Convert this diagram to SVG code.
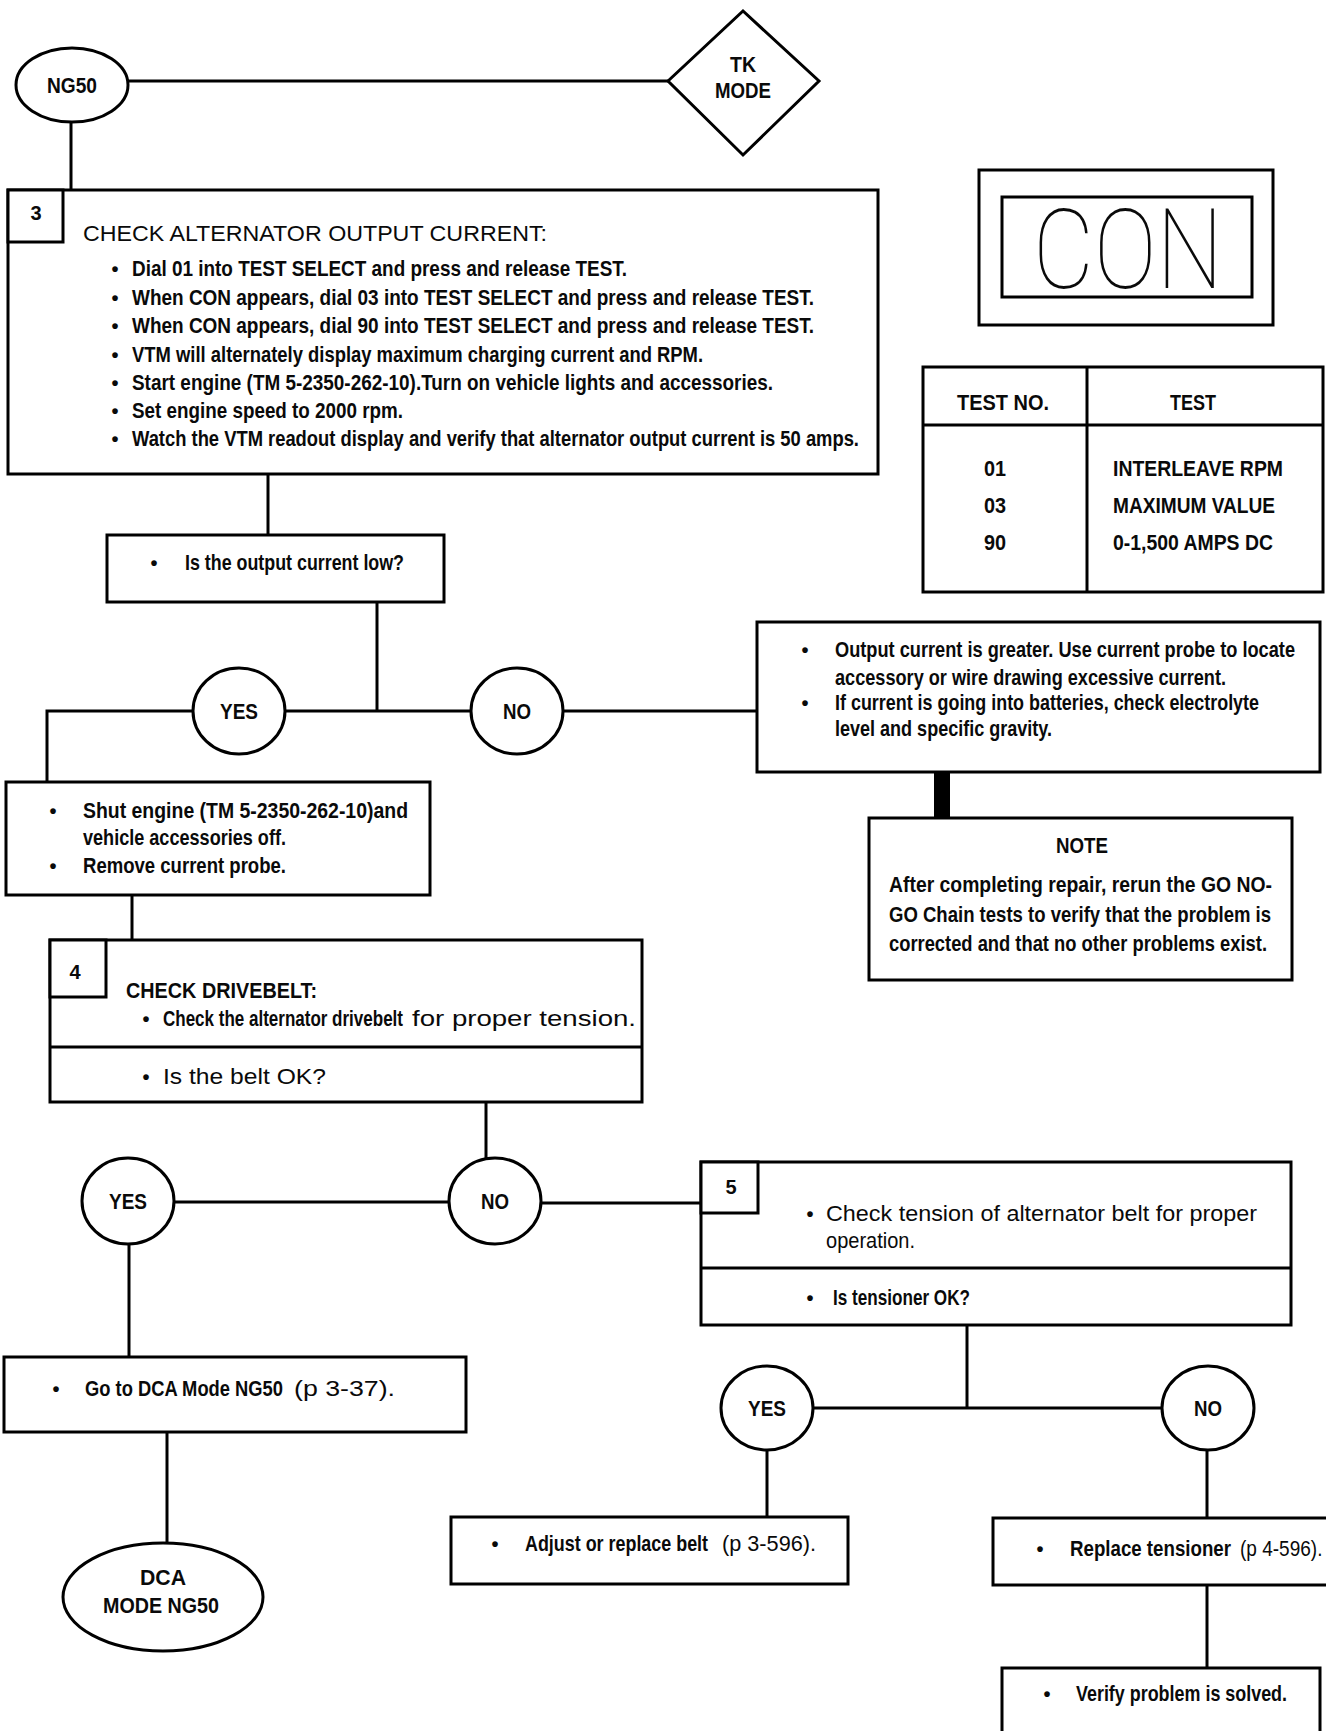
<svg xmlns="http://www.w3.org/2000/svg" width="1326" height="1731" viewBox="0 0 1326 1731">
  <style>
    .bx { fill: #fff; stroke: #000; stroke-width: 3; }
    .ov { fill: #fff; stroke: #000; stroke-width: 3; }
    .ln { fill: none; stroke: #000; stroke-width: 3; }
    text { fill: #0a0a0a; font-family: "Liberation Sans", Arial, sans-serif; font-size: 22px; }
    /* narrow bold lettering: drawn with a horizontal squeeze of 0.72 */
    .b { font-weight: bold; }
    .m { text-anchor: middle; }
    .lbl { font-weight: bold; text-anchor: middle; }
    .num { font-weight: bold; font-size: 20px; text-anchor: middle; }
    .dot { font-size: 20px; text-anchor: middle; font-weight: bold; }
    .seg { font-family: Roboto, Lato, Inter, "Noto Sans", sans-serif; font-weight: 100; font-size: 112px; }
  </style>

  <!-- connectors -->
  <g id="connectors">
    <line class="ln" x1="128" y1="81" x2="668" y2="81"/>
    <line class="ln" x1="71" y1="122" x2="71" y2="190"/>
    <line class="ln" x1="268" y1="474" x2="268" y2="535"/>
    <line class="ln" x1="377" y1="602" x2="377" y2="711"/>
    <line class="ln" x1="285" y1="711" x2="471" y2="711"/>
    <polyline class="ln" points="193,711 47,711 47,782"/>
    <line class="ln" x1="563" y1="711" x2="757" y2="711"/>
    <rect x="934" y="772" width="16" height="46" fill="#000"/>
    <line class="ln" x1="132" y1="895" x2="132" y2="940"/>
    <line class="ln" x1="486" y1="1102" x2="486" y2="1159"/>
    <line class="ln" x1="174" y1="1202" x2="449" y2="1202"/>
    <line class="ln" x1="541" y1="1203" x2="701" y2="1203"/>
    <line class="ln" x1="129" y1="1244" x2="129" y2="1357"/>
    <line class="ln" x1="167" y1="1432" x2="167" y2="1543"/>
    <line class="ln" x1="967" y1="1325" x2="967" y2="1408"/>
    <line class="ln" x1="812" y1="1408" x2="1163" y2="1408"/>
    <line class="ln" x1="767" y1="1450" x2="767" y2="1517"/>
    <line class="ln" x1="1207" y1="1450" x2="1207" y2="1518"/>
    <line class="ln" x1="1207" y1="1585" x2="1207" y2="1668"/>
  </g>

  <!-- entry point -->
  <g id="ng50">
    <ellipse class="ov" cx="72" cy="85" rx="56" ry="37"/>
    <text class="lbl" transform="translate(72,93) scale(0.72,1)" textLength="69.4" lengthAdjust="spacingAndGlyphs">NG50</text>
  </g>

  <g id="tk-mode">
    <polygon class="ov" points="668,81 743,11 819,81 743,155"/>
    <text class="lbl" transform="translate(743,72) scale(0.72,1)" textLength="36.1" lengthAdjust="spacingAndGlyphs">TK</text>
    <text class="lbl" transform="translate(743,98) scale(0.72,1)" textLength="77.8" lengthAdjust="spacingAndGlyphs">MODE</text>
  </g>

  <!-- step 3 -->
  <g id="step3">
    <rect class="bx" x="8" y="190" width="870" height="284"/>
    <rect class="bx" x="8" y="190" width="55" height="52"/>
    <text class="num" x="36" y="220">3</text>
    <text x="83" y="241" textLength="464" lengthAdjust="spacingAndGlyphs">CHECK ALTERNATOR OUTPUT CURRENT:</text>
    <text class="dot" x="115" y="276">•</text>
    <text class="b" transform="translate(132,276) scale(0.72,1)" textLength="687.5" lengthAdjust="spacingAndGlyphs">Dial 01 into TEST SELECT and press and release TEST.</text>
    <text class="dot" x="115" y="305">•</text>
    <text class="b" transform="translate(132,305) scale(0.72,1)" textLength="947.2" lengthAdjust="spacingAndGlyphs">When CON appears, dial 03 into TEST SELECT and press and release TEST.</text>
    <text class="dot" x="115" y="333">•</text>
    <text class="b" transform="translate(132,333) scale(0.72,1)" textLength="947.2" lengthAdjust="spacingAndGlyphs">When CON appears, dial 90 into TEST SELECT and press and release TEST.</text>
    <text class="dot" x="115" y="362">•</text>
    <text class="b" transform="translate(132,362) scale(0.72,1)" textLength="793.1" lengthAdjust="spacingAndGlyphs">VTM will alternately display maximum charging current and RPM.</text>
    <text class="dot" x="115" y="390">•</text>
    <text class="b" transform="translate(132,390) scale(0.72,1)" textLength="890.3" lengthAdjust="spacingAndGlyphs">Start engine (TM 5-2350-262-10).Turn on vehicle lights and accessories.</text>
    <text class="dot" x="115" y="418">•</text>
    <text class="b" transform="translate(132,418) scale(0.72,1)" textLength="376.4" lengthAdjust="spacingAndGlyphs">Set engine speed to 2000 rpm.</text>
    <text class="dot" x="115" y="446">•</text>
    <text class="b" transform="translate(132,446) scale(0.72,1)" textLength="1009.7" lengthAdjust="spacingAndGlyphs">Watch the VTM readout display and verify that alternator output current is 50 amps.</text>
  </g>

  <!-- readout display -->
  <g id="con-display">
    <rect class="bx" x="979" y="170" width="294" height="155"/>
    <rect class="bx" x="1002" y="197" width="250" height="100"/>
    <text class="seg" x="1033" y="288" textLength="190" lengthAdjust="spacingAndGlyphs">CON</text>
  </g>

  <!-- test table -->
  <g id="test-table">
    <rect class="bx" x="923" y="367" width="400" height="225"/>
    <line class="ln" x1="1087" y1="367" x2="1087" y2="592"/>
    <line class="ln" x1="923" y1="425" x2="1323" y2="425"/>
    <text class="lbl" transform="translate(1003,410) scale(0.72,1)" textLength="127.8" lengthAdjust="spacingAndGlyphs">TEST NO.</text>
    <text class="lbl" transform="translate(1193,410) scale(0.72,1)" textLength="63.9" lengthAdjust="spacingAndGlyphs">TEST</text>
    <text class="b m" transform="translate(995,476) scale(0.72,1)" textLength="30.6" lengthAdjust="spacingAndGlyphs">01</text>
    <text class="b m" transform="translate(995,513) scale(0.72,1)" textLength="30.6" lengthAdjust="spacingAndGlyphs">03</text>
    <text class="b m" transform="translate(995,550) scale(0.72,1)" textLength="30.6" lengthAdjust="spacingAndGlyphs">90</text>
    <text class="b" transform="translate(1113,476) scale(0.72,1)" textLength="236.1" lengthAdjust="spacingAndGlyphs">INTERLEAVE RPM</text>
    <text class="b" transform="translate(1113,513) scale(0.72,1)" textLength="225" lengthAdjust="spacingAndGlyphs">MAXIMUM VALUE</text>
    <text class="b" transform="translate(1113,550) scale(0.72,1)" textLength="222.2" lengthAdjust="spacingAndGlyphs">0-1,500 AMPS DC</text>
  </g>

  <g id="q-output-low">
    <rect class="bx" x="107" y="535" width="337" height="67"/>
    <text class="dot" x="154" y="570">•</text>
    <text class="b" transform="translate(185,570) scale(0.72,1)" textLength="304.2" lengthAdjust="spacingAndGlyphs">Is the output current low?</text>
  </g>

  <g id="yes-1">
    <ellipse class="ov" cx="239" cy="711" rx="46" ry="43"/>
    <text class="lbl" transform="translate(239,719) scale(0.72,1)" textLength="52.8" lengthAdjust="spacingAndGlyphs">YES</text>
  </g>
  <g id="no-1">
    <ellipse class="ov" cx="517" cy="711" rx="46" ry="43"/>
    <text class="lbl" transform="translate(517,719) scale(0.72,1)" textLength="38.9" lengthAdjust="spacingAndGlyphs">NO</text>
  </g>

  <g id="shut-engine">
    <rect class="bx" x="6" y="782" width="424" height="113"/>
    <text class="dot" x="53" y="818">•</text>
    <text class="b" transform="translate(83,818) scale(0.72,1)" textLength="451.4" lengthAdjust="spacingAndGlyphs">Shut engine (TM 5-2350-262-10)and</text>
    <text class="b" transform="translate(83,845) scale(0.72,1)" textLength="281.9" lengthAdjust="spacingAndGlyphs">vehicle accessories off.</text>
    <text class="dot" x="53" y="873">•</text>
    <text class="b" transform="translate(83,873) scale(0.72,1)" textLength="281.9" lengthAdjust="spacingAndGlyphs">Remove current probe.</text>
  </g>

  <g id="output-greater">
    <rect class="bx" x="757" y="622" width="563" height="150"/>
    <text class="dot" x="805" y="657">•</text>
    <text class="b" transform="translate(835,657) scale(0.72,1)" textLength="638.9" lengthAdjust="spacingAndGlyphs">Output current is greater. Use current probe to locate</text>
    <text class="b" transform="translate(835,685) scale(0.72,1)" textLength="543.1" lengthAdjust="spacingAndGlyphs">accessory or wire drawing excessive current.</text>
    <text class="dot" x="805" y="710">•</text>
    <text class="b" transform="translate(835,710) scale(0.72,1)" textLength="588.9" lengthAdjust="spacingAndGlyphs">If current is going into batteries, check electrolyte</text>
    <text class="b" transform="translate(835,736) scale(0.72,1)" textLength="301.4" lengthAdjust="spacingAndGlyphs">level and specific gravity.</text>
  </g>

  <g id="note">
    <rect class="bx" x="869" y="818" width="423" height="162"/>
    <text class="lbl" transform="translate(1082,853) scale(0.72,1)" textLength="72.2" lengthAdjust="spacingAndGlyphs">NOTE</text>
    <text class="b" transform="translate(889,892) scale(0.72,1)" textLength="531.9" lengthAdjust="spacingAndGlyphs">After completing repair, rerun the GO NO-</text>
    <text class="b" transform="translate(889,922) scale(0.72,1)" textLength="530.6" lengthAdjust="spacingAndGlyphs">GO Chain tests to verify that the problem is</text>
    <text class="b" transform="translate(889,951) scale(0.72,1)" textLength="525" lengthAdjust="spacingAndGlyphs">corrected and that no other problems exist.</text>
  </g>

  <!-- step 4 -->
  <g id="step4">
    <rect class="bx" x="50" y="940" width="592" height="162"/>
    <line class="ln" x1="50" y1="1047" x2="642" y2="1047"/>
    <rect class="bx" x="50" y="940" width="56" height="57"/>
    <text class="num" x="75" y="979">4</text>
    <text class="b" transform="translate(126,998) scale(0.72,1)" textLength="265.3" lengthAdjust="spacingAndGlyphs">CHECK DRIVEBELT:</text>
    <text class="dot" x="146" y="1026">•</text>
    <text class="b" transform="translate(163,1026) scale(0.72,1)" textLength="333.3" lengthAdjust="spacingAndGlyphs">Check the alternator drivebelt</text>
    <text x="412" y="1026" textLength="224" lengthAdjust="spacingAndGlyphs">for proper tension.</text>
    <text class="dot" x="146" y="1084">•</text>
    <text x="163" y="1084" textLength="163" lengthAdjust="spacingAndGlyphs">Is the belt OK?</text>
  </g>

  <g id="yes-2">
    <ellipse class="ov" cx="128" cy="1201" rx="46" ry="43"/>
    <text class="lbl" transform="translate(128,1209) scale(0.72,1)" textLength="52.8" lengthAdjust="spacingAndGlyphs">YES</text>
  </g>
  <g id="no-2">
    <ellipse class="ov" cx="495" cy="1201" rx="46" ry="43"/>
    <text class="lbl" transform="translate(495,1209) scale(0.72,1)" textLength="38.9" lengthAdjust="spacingAndGlyphs">NO</text>
  </g>

  <!-- step 5 -->
  <g id="step5">
    <rect class="bx" x="701" y="1162" width="590" height="163"/>
    <line class="ln" x1="701" y1="1268" x2="1291" y2="1268"/>
    <rect class="bx" x="701" y="1162" width="57" height="51"/>
    <text class="num" x="731" y="1194">5</text>
    <text class="dot" x="810" y="1221">•</text>
    <text x="826" y="1221" textLength="431" lengthAdjust="spacingAndGlyphs">Check tension of alternator belt for proper</text>
    <text x="826" y="1248" textLength="89" lengthAdjust="spacingAndGlyphs">operation.</text>
    <text class="dot" x="810" y="1305">•</text>
    <text class="b" transform="translate(833,1305) scale(0.72,1)" textLength="190.3" lengthAdjust="spacingAndGlyphs">Is tensioner OK?</text>
  </g>

  <g id="go-dca">
    <rect class="bx" x="4" y="1357" width="462" height="75"/>
    <text class="dot" x="56" y="1396">•</text>
    <text class="b" transform="translate(85,1396) scale(0.72,1)" textLength="275" lengthAdjust="spacingAndGlyphs">Go to DCA Mode NG50</text>
    <text x="294" y="1396" textLength="101" lengthAdjust="spacingAndGlyphs">(p 3-37).</text>
  </g>

  <g id="dca-mode-ng50">
    <ellipse class="ov" cx="163" cy="1597" rx="100" ry="54"/>
    <text class="lbl" transform="translate(163,1585) scale(0.72,1)" textLength="63.9" lengthAdjust="spacingAndGlyphs">DCA</text>
    <text class="lbl" transform="translate(161,1613) scale(0.72,1)" textLength="161.1" lengthAdjust="spacingAndGlyphs">MODE NG50</text>
  </g>

  <g id="yes-3">
    <ellipse class="ov" cx="767" cy="1408" rx="46" ry="42"/>
    <text class="lbl" transform="translate(767,1416) scale(0.72,1)" textLength="52.8" lengthAdjust="spacingAndGlyphs">YES</text>
  </g>
  <g id="no-3">
    <ellipse class="ov" cx="1208" cy="1408" rx="46" ry="42"/>
    <text class="lbl" transform="translate(1208,1416) scale(0.72,1)" textLength="38.9" lengthAdjust="spacingAndGlyphs">NO</text>
  </g>

  <g id="adjust-belt">
    <rect class="bx" x="451" y="1517" width="397" height="67"/>
    <text class="dot" x="495" y="1551">•</text>
    <text class="b" transform="translate(525,1551) scale(0.72,1)" textLength="254.2" lengthAdjust="spacingAndGlyphs">Adjust or replace belt</text>
    <text x="722" y="1551" textLength="94" lengthAdjust="spacingAndGlyphs">(p 3-596).</text>
  </g>

  <g id="replace-tensioner">
    <rect class="bx" x="993" y="1518" width="340" height="67"/>
    <text class="dot" x="1040" y="1556">•</text>
    <text class="b" transform="translate(1070,1556) scale(0.72,1)" textLength="223.6" lengthAdjust="spacingAndGlyphs">Replace tensioner</text>
    <text transform="translate(1240,1556) scale(0.85,1)" textLength="97" lengthAdjust="spacingAndGlyphs">(p 4-596).</text>
  </g>

  <g id="verify">
    <rect class="bx" x="1002" y="1668" width="318" height="80"/>
    <text class="dot" x="1047" y="1701">•</text>
    <text class="b" transform="translate(1076,1701) scale(0.72,1)" textLength="293.1" lengthAdjust="spacingAndGlyphs">Verify problem is solved.</text>
  </g>
</svg>
